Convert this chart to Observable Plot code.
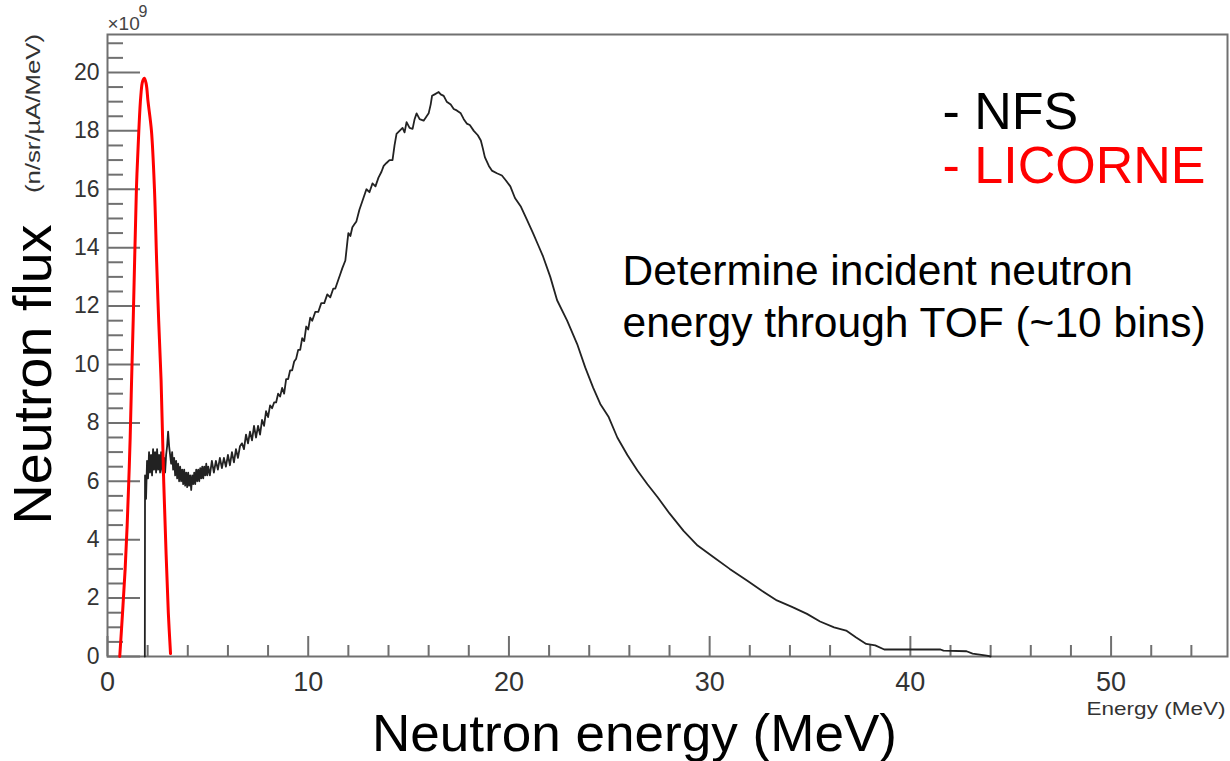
<!DOCTYPE html>
<html>
<head>
<meta charset="utf-8">
<script src="https://cdn.jsdelivr.net/npm/d3@7"></script>
<script src="https://cdn.jsdelivr.net/npm/@observablehq/plot@0.6"></script>
<style>
  html, body { margin: 0; padding: 0; background: #fff; }
  #chart svg { display: block; }
</style>
</head>
<body>
<div id="chart"></div>
<script>
// NFS neutron spectrum (energy in MeV, flux in 1e9 n/sr/µA/MeV)
const nfsEnergy = [
  1.86, 1.87, 1.92, 1.97, 2.02, 2.07, 2.12, 2.17, 2.22, 2.27, 2.32, 2.37, 2.42, 2.47, 2.52, 2.57,
  2.62, 2.67, 2.72, 2.77, 2.82, 2.87, 2.92, 2.97, 3.02, 3.07, 3.12, 3.17, 3.22, 3.27, 3.32, 3.37,
  3.42, 3.47, 3.52, 3.57, 3.62, 3.67, 3.72, 3.77, 3.82, 3.87, 3.92, 3.97, 4.02, 4.07, 4.12, 4.17,
  4.22, 4.27, 4.32, 4.37, 4.42, 4.47, 4.52, 4.57, 4.62, 4.67, 4.72, 4.77, 4.82, 4.87, 4.92, 4.97,
  5.02, 5.1, 5.2, 5.3, 5.4, 5.5, 5.6, 5.7, 5.8, 5.9, 6.0, 6.1, 6.2, 6.3, 6.4, 6.5, 6.6, 6.7, 6.8,
  6.9, 7.0, 7.1, 7.2, 7.3, 7.4, 7.5, 7.6, 7.7, 7.8, 7.9, 8.0, 8.1, 8.2, 8.3, 8.4, 8.5, 8.6, 8.7,
  8.8, 8.9, 9.0, 9.1, 9.2, 9.3, 9.4, 9.5, 9.6, 9.7, 9.8, 9.9, 10.0, 10.1, 10.2, 10.35, 10.5, 10.65,
  10.8, 10.95, 11.1, 11.25, 11.35, 11.5, 11.6, 11.7, 11.85, 11.95, 12.0, 12.1, 12.2, 12.3, 12.4,
  12.55, 12.7, 12.9, 13.05, 13.2, 13.35, 13.5, 13.65, 13.76, 13.9, 14.05, 14.2, 14.3, 14.4, 14.55,
  14.7, 14.8, 14.9, 15.05, 15.2, 15.3, 15.4, 15.55, 15.75, 15.9, 16.0, 16.1, 16.17, 16.3, 16.5,
  16.6, 16.75, 16.9, 17.1, 17.25, 17.4, 17.6, 17.75, 17.9, 18.05, 18.25, 18.45, 18.6, 18.7, 18.8,
  19.0, 19.15, 19.4, 19.65, 19.85, 20.07, 20.3, 20.6, 20.9, 21.2, 21.45, 21.7, 22.06, 22.4, 22.9,
  23.4, 23.8, 24.2, 24.55, 24.97, 25.4, 25.9, 26.4, 26.9, 27.4, 28.0, 28.7, 29.4, 30.2, 31.0,
  31.86, 32.6, 33.35, 34.1, 34.85, 35.5, 36.2, 36.8, 37.3, 37.8, 38.25, 38.7, 41.5, 41.65, 42.8,
  43.1, 43.8, 44.0
];
const nfsFlux = [
  0, 6.2, 5.4, 6.7, 6.1, 7.0, 6.3, 6.9, 6.2, 7.1, 6.4, 7.0, 6.3, 7.1, 6.4, 6.9,
  6.3, 7.0, 6.4, 6.2, 6.8, 6.3, 6.9, 7.2, 7.7, 7.2, 6.9, 6.6, 7.0, 6.4, 6.8, 6.2,
  6.7, 6.1, 6.6, 6.0, 6.5, 6.0, 6.4, 5.9, 6.4, 5.85, 6.3, 5.8, 6.3, 5.85, 6.2, 5.7,
  6.2, 5.9, 6.3, 5.9, 6.4, 6.0, 6.4, 6.0, 6.45, 6.1, 6.5, 6.1, 6.5, 6.2, 6.6, 6.2,
  6.5, 6.2, 6.7, 6.3, 6.7, 6.4, 6.8, 6.45, 6.8, 6.5, 6.9, 6.55, 7.0, 6.65, 7.1, 6.8, 7.2, 7.3, 7.1,
  7.6, 7.3, 7.7, 7.4, 7.9, 7.5, 7.9, 7.6, 8.1, 7.9, 8.4, 8.2, 8.6, 8.5, 8.7, 8.7, 9.0, 8.9, 9.2,
  9.0, 9.5, 9.5, 9.8, 9.8, 10.1, 10.2, 10.5, 10.5, 10.9, 10.8, 11.3, 11.2, 11.6, 11.5, 11.8, 11.8, 12.1,
  12.1, 12.4, 12.3, 12.6, 12.6, 12.9, 13.1, 13.3, 13.56, 14.2, 14.5, 14.4, 14.7, 14.8, 14.9,
  15.3, 15.6, 16.0, 15.9, 16.2, 16.1, 16.4, 16.6, 16.8, 16.9, 17.0, 17.0, 17.5, 17.9, 18.0,
  18.1, 17.95, 18.3, 18.1, 18.07, 18.4, 18.6, 18.4, 18.35, 18.5, 18.6, 18.9, 19.2, 19.25, 19.33,
  19.25, 19.2, 19.0, 18.9, 18.75, 18.7, 18.6, 18.4, 18.25, 18.2, 18.0, 17.85, 17.67, 17.4, 17.1,
  16.8, 16.64, 16.55, 16.47, 16.3, 16.1, 15.7, 15.4, 14.95, 14.5, 14.1, 13.7, 13.0, 12.2, 11.5,
  10.7, 9.9, 9.2, 8.65, 8.2, 7.5, 6.9, 6.37, 5.9, 5.46, 4.9, 4.3, 3.8, 3.4, 3.0,
  2.6, 2.25, 1.92, 1.7, 1.46, 1.2, 1.0, 0.89, 0.65, 0.43, 0.38, 0.24, 0.24, 0.2, 0.18,
  0.1, 0.03, 0
];

// LICORNE spectrum
const licorneEnergy = [
  0.61, 0.75, 0.88, 0.98, 1.06, 1.13, 1.20, 1.28, 1.36, 1.44, 1.56, 1.66, 1.75, 1.84,
  1.93, 2.02, 2.19, 2.34, 2.45, 2.55, 2.67, 2.80, 2.92, 3.03, 3.14
];
const licorneFlux = [
  0, 1.5, 3.0, 4.5, 6.0, 7.5, 9.45, 11.5, 13.8, 16.0, 18.0, 19.2, 19.7, 19.8,
  19.6, 19.0, 18.0, 16.0, 13.5, 11.5, 9.45, 6.0, 3.5, 1.5, 0.1
];

// Axis ticks
const xMajorTicks = [0, 10, 20, 30, 40, 50];
const xMinorTicks = [2, 4, 6, 8, 12, 14, 16, 18, 22, 24, 26, 28, 32, 34, 36, 38, 42, 44, 46, 48, 52, 54];
const yMajorTicks = [0, 2, 4, 6, 8, 10, 12, 14, 16, 18, 20];
const yMinorTicks = [0.5, 1, 1.5, 2.5, 3, 3.5, 4.5, 5, 5.5, 6.5, 7, 7.5, 8.5, 9, 9.5, 10.5, 11, 11.5,
  12.5, 13, 13.5, 14.5, 15, 15.5, 16.5, 17, 17.5, 18.5, 19, 19.5, 20.5, 21];

const nfs = nfsEnergy.map((e, i) => ({energy: e, flux: nfsFlux[i]}));
const licorne = licorneEnergy.map((e, i) => ({energy: e, flux: licorneFlux[i]}));

const W = 1230, H = 761;
const mL = 107, mR = 3, mT = 34, mB = 105;
const xDomain = [0, 55.8], yDomain = [0, 21.3];
const plotW = W - mL - mR, plotH = H - mT - mB;
// inward tick lengths, pixels converted to data units
const pxY = (yDomain[1] - yDomain[0]) / plotH;
const pxX = (xDomain[1] - xDomain[0]) / plotW;

const FONT = "Liberation Sans, Arial, Helvetica, sans-serif";
const axisGray = "#707070";

// helper: text placed at absolute SVG coordinates (baseline at y)
const label = (str, x, y, opts = {}) => Plot.text([str], {
  text: d => d, frameAnchor: "top-left", dx: x - mL, dy: y - mT,
  lineAnchor: "bottom", fontFamily: FONT, ...opts
});

// rendered lengths of the stretched labels
const stretched = {
  "(n/sr/\u00b5A/MeV)": 159,
  "Neutron flux": 300,
  "Energy (MeV)": 139,
  "Neutron energy (MeV)": 525
};

const chart = Plot.plot({
  width: W, height: H,
  marginLeft: mL, marginRight: mR, marginTop: mT, marginBottom: mB,
  style: {fontFamily: FONT, background: "#fff", overflow: "visible"},
  x: {domain: xDomain, axis: null},
  y: {domain: yDomain, axis: null},
  marks: [
    // minor and major ticks, drawn inward
    Plot.ruleX(xMinorTicks, {x: d => d, y1: 0, y2: 11 * pxY, stroke: axisGray, strokeWidth: 2}),
    Plot.ruleX(xMajorTicks, {x: d => d, y1: 0, y2: 20 * pxY, stroke: axisGray, strokeWidth: 2}),
    Plot.ruleY(yMinorTicks, {y: d => d, x1: 0, x2: 16 * pxX, stroke: axisGray, strokeWidth: 2}),
    Plot.ruleY(yMajorTicks, {y: d => d, x1: 0, x2: 33 * pxX, stroke: axisGray, strokeWidth: 2}),
    Plot.frame({stroke: axisGray, strokeWidth: 2}),
    // tick labels
    Plot.axisX(xMajorTicks, {tickSize: 0, tickPadding: 15, fontSize: 27, color: "#333", label: null}),
    Plot.axisY(yMajorTicks, {tickSize: 0, tickPadding: 8, fontSize: 23, color: "#333", label: null}),
    // spectra
    Plot.line(nfs, {x: "energy", y: "flux", stroke: "#222", strokeWidth: 1.8}),
    Plot.line(licorne, {x: "energy", y: "flux", stroke: "#ff0000", strokeWidth: 3, curve: "catmull-rom"}),
    // axis titles and annotations
    label("\u00d710", 107, 29, {fontSize: 19, fill: "#444", textAnchor: "start"}),
    label("9", 138, 16, {fontSize: 16, fill: "#444", textAnchor: "start"}),
    label("(n/sr/\u00b5A/MeV)", 39, 113, {fontSize: 20, fill: "#333", textAnchor: "middle", rotate: -90}),
    label("Energy (MeV)", 1225, 714, {fontSize: 19, fill: "#333", textAnchor: "end"}),
    label("Neutron flux", 50, 374, {fontSize: 53, fill: "#000", textAnchor: "middle", rotate: -90}),
    label("Neutron energy (MeV)", 634, 750, {fontSize: 52, fill: "#000", textAnchor: "middle"}),
    label("- NFS", 942, 128, {fontSize: 52, fill: "#000", textAnchor: "start"}),
    label("- LICORNE", 942, 182, {fontSize: 52, fill: "#ff0000", textAnchor: "start"}),
    label("Determine incident neutron", 622, 284, {fontSize: 42.5, fill: "#000", textAnchor: "start"}),
    label("energy through TOF (~10 bins)", 622, 336, {fontSize: 42.5, fill: "#000", textAnchor: "start"})
  ]
});

d3.select(chart).selectAll("text").each(function () {
  const L = stretched[this.textContent];
  if (L) d3.select(this).attr("textLength", L).attr("lengthAdjust", "spacingAndGlyphs");
});

document.getElementById("chart").appendChild(chart);
</script>
</body>
</html>
